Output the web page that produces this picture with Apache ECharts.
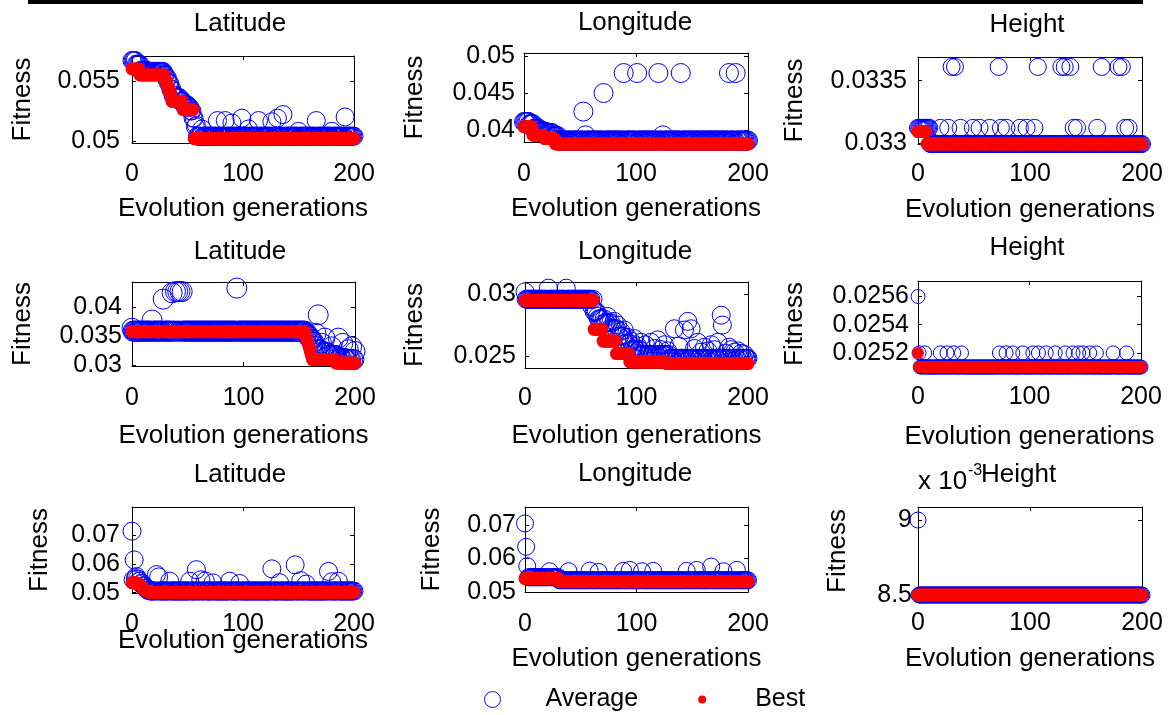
<!DOCTYPE html>
<html>
<head>
<meta charset="utf-8">
<script src="https://cdn.jsdelivr.net/npm/echarts@6/dist/echarts.min.js"></script>
<style>html,body{margin:0;padding:0;background:#fff}#c{width:1169px;height:715px}</style>
</head>
<body>
<div id="c"></div>
<script>
// ---------- texts & ticks ----------
const panelTitles = ['Latitude','Longitude','Height','Latitude','Longitude','Height','Latitude','Longitude','Height'];
const yLabel = 'Fitness';
const xLabel = 'Evolution generations';
const legendNames = ['Average', 'Best'];
const lastGen = 200;
const xTicks = [0, 100, 200];
const xTickLabels = ['0', '100', '200'];

const yRanges = [[0.04983,0.05708],[0.0384,0.0504],[0.03299,0.03369],[0.0299,0.04435],[0.02401,0.0310],[0.0251,0.02571],[0.0499,0.0798],[0.0500,0.0754],[0.0085,0.009087]];
const yTicks = [[0.05,0.055],[0.04,0.045,0.05],[0.033,0.0335],[0.03,0.035,0.04],[0.025,0.03],[0.0252,0.0254,0.0256],[0.05,0.06,0.07],[0.05,0.06,0.07],[0.0085,0.009]];
const yTickLabels = [['0.05','0.055'],['0.04','0.045','0.05'],['0.033','0.0335'],['0.03','0.035','0.04'],['0.025','0.03'],['0.0252','0.0254','0.0256'],['0.05','0.06','0.07'],['0.05','0.06','0.07'],['8.5','9']];

// ---------- data: runs are [first generation, value] held until the next run ----------
// Panel 1: Latitude (row 1)
const bestRuns1 = [[0,0.0560],[7,0.0555],[30,0.0550],[32,0.0545],[34,0.0540],[36,0.0533],[46,0.0526],[56,0.0502]];
const avgRuns1 = [[0,0.0567],[4,0.0564],[8,0.0559],[14,0.0558],[29,0.0555],[31,0.0552],[33,0.0548],[35,0.0543],[37,0.0538],[40,0.0536],[44,0.0533],[47,0.0530],[51,0.0528],[53,0.0525],[55,0.0519],[57,0.0512],[59,0.0504]];
const avgPoints1 = [[58,0.0513],[63,0.0510],[77,0.0517],[84,0.0517],[90,0.0515],[99,0.0519],[105,0.0510],[114,0.0517],[126,0.0516],[131,0.0519],[136,0.0522],[150,0.0508],[166,0.0517],[180,0.0508],[192,0.0520]];
// Panel 2: Longitude (row 1)
const bestRuns2 = [[0,0.04045],[8,0.03932],[18,0.03888],[28,0.03814]];
const avgRuns2 = [[0,0.0411],[5,0.0408],[9,0.0402],[14,0.0398],[20,0.0396],[26,0.0392],[31,0.0386]];
const avgPoints2 = [[53,0.0425],[55,0.0393],[71,0.0450],[89,0.0477],[101,0.0477],[120,0.0477],[124,0.0393],[140,0.0477],[183,0.0477],[189,0.0477]];
// Panel 3: Height (row 1)
const bestRuns3 = [[0,0.03309],[8,0.03299]];
const avgRuns3 = [[0,0.03312],[11,0.03299]];
const avgPoints3 = [[30,0.03361],[33,0.03361],[72,0.03361],[107,0.03361],[128,0.03361],[131,0.03361],[136,0.03361],[164,0.03361],[179,0.03361],[182,0.03361],
  [20,0.03312],[27,0.03312],[38,0.03312],[49,0.03312],[55,0.03312],[64,0.03312],[74,0.03312],[79,0.03312],[91,0.03312],[97,0.03312],[104,0.03312],[139,0.03312],[142,0.03312],[160,0.03312],[185,0.03312],[188,0.03312]];
// Panel 4: Latitude (row 2)
const bestRuns4 = [[0,0.0358],[156,0.0350],[157,0.0344],[158,0.0337],[159,0.0330],[160,0.0323],[161,0.0316],[162,0.0310],[183,0.0304]];
const avgRuns4 = [[0,0.0359],[156,0.0355],[158,0.0350],[160,0.0345],[162,0.0340],[164,0.0333],[166,0.0327],[170,0.0322],[176,0.0317],[184,0.0312],[192,0.0310]];
const avgPoints4 = [[0,0.0364],[18,0.0378],[28,0.0414],[36,0.0425],[39,0.0427],[41,0.0427],[43,0.0427],[45,0.0427],[94,0.0433],[165,0.0355],[167,0.0387],[170,0.0338],[173,0.0347],[179,0.0332],[185,0.0347],[189,0.0338],[194,0.0327],[197,0.0332],[200,0.0324]];
// Panel 5: Longitude (row 2)
const bestRuns5 = [[0,0.0295],[62,0.02715],[70,0.0262],[82,0.02518],[94,0.0245],[127,0.02437]];
const avgRuns5 = [[0,0.0296],[62,0.0286],[66,0.0280],[72,0.0277],[78,0.0272],[84,0.0266],[90,0.0260],[96,0.0255],[104,0.0251],[130,0.0248]];
const avgPoints5 = [[0,0.0302],[21,0.0305],[37,0.0305],[60,0.0290],[63,0.0286],[65,0.0282],[68,0.0280],[70,0.0276],[74,0.0282],[76,0.0272],[80,0.0278],[83,0.0275],[86,0.0270],[89,0.0271],[92,0.0265],[95,0.0262],[98,0.0264],[101,0.0258],[104,0.0261],[108,0.0259],[113,0.0261],[116,0.0256],[119,0.0263],[122,0.0255],[125,0.0259],[128,0.0254],[134,0.0272],[138,0.0258],[143,0.0271],[146,0.0278],[149,0.0272],[152,0.0256],[155,0.0261],[158,0.0253],[161,0.0257],[164,0.0254],[167,0.0259],[170,0.0255],[173,0.0261],[176,0.0283],[177,0.0275],[180,0.0252],[183,0.0257],[185,0.0255],[188,0.0253],[191,0.0254],[194,0.0252],[197,0.0251]];
// Panel 6: Height (row 2)
const bestRuns6 = [[0,0.02520],[1,0.02510]];
const avgRuns6 = [[0,0.02510]];
const avgPoints6 = [[0,0.0256],[1,0.0252],[6,0.0252],[20,0.0252],[26,0.0252],[32,0.0252],[39,0.0252],[73,0.0252],[79,0.0252],[85,0.0252],[94,0.0252],[103,0.0252],[108,0.0252],[115,0.0252],[123,0.0252],[132,0.0252],[139,0.0252],[144,0.0252],[148,0.0252],[154,0.0252],[160,0.0252],[175,0.0252],[187,0.0252]];
// Panel 7: Latitude (row 3)
const bestRuns7 = [[0,0.0535],[5,0.0531],[7,0.0525],[9,0.0517],[11,0.0510],[13,0.0505],[15,0.0502]];
const avgRuns7 = [[0,0.0545],[3,0.0548],[6,0.0540],[8,0.0532],[10,0.0524],[12,0.0516],[14,0.0509],[16,0.0506]];
const avgPoints7 = [[0,0.0714],[1,0.0545],[2,0.0614],[4,0.0556],[22,0.0563],[24,0.0555],[34,0.0540],[52,0.0540],[58,0.0580],[62,0.0545],[66,0.0541],[73,0.0534],[88,0.0540],[97,0.0532],[126,0.0583],[133,0.0535],[147,0.0597],[152,0.0542],[157,0.0530],[177,0.0574],[180,0.0538],[186,0.0540]];
// Panel 8: Longitude (row 3)
const bestRuns8 = [[0,0.0540],[31,0.0531]];
const avgRuns8 = [[0,0.0544],[31,0.0535]];
const avgPoints8 = [[0,0.0705],[1,0.0635],[2,0.0577],[22,0.0562],[39,0.0562],[58,0.0564],[66,0.0560],[88,0.0563],[94,0.0566],[105,0.0562],[115,0.0563],[145,0.0563],[154,0.0566],[167,0.0576],[178,0.0562],[190,0.0566]];
// Panel 9: Height (row 3)
const bestRuns9 = [[0,0.0085]];
const avgRuns9 = [[0,0.0085]];
const avgPoints9 = [[0,0.0090]];

const bestRuns = [bestRuns1,bestRuns2,bestRuns3,bestRuns4,bestRuns5,bestRuns6,bestRuns7,bestRuns8,bestRuns9];
const avgRuns = [avgRuns1,avgRuns2,avgRuns3,avgRuns4,avgRuns5,avgRuns6,avgRuns7,avgRuns8,avgRuns9];
const avgPoints = [avgPoints1,avgPoints2,avgPoints3,avgPoints4,avgPoints5,avgPoints6,avgPoints7,avgPoints8,avgPoints9];

// ---------- layout (positions / styles) ----------
const FONT = '"Liberation Sans", Arial, sans-serif';
const layout = [
  {g:[132,56,222,87],  t:[240,24],  xM:19, xGap:53, yGap:96,  yM:12, c:18, d:13},
  {g:[524,53,224,89],  t:[635,23],  xM:20, xGap:54, yGap:96,  yM:9,  c:19, d:13},
  {g:[918,57,224,87],  t:[1027,25], xM:18, xGap:53, yGap:110, yM:11, c:17, d:13},
  {g:[132,282,223,84], t:[240,252], xM:20, xGap:57, yGap:96,  yM:10, c:20, d:13},
  {g:[525,282,223,86], t:[635,252], xM:18, xGap:55, yGap:97,  yM:9,  c:18, d:13},
  {g:[918,281,223,86], t:[1027,248],xM:18, xGap:57, yGap:110, yM:9,  c:14, d:12},
  {g:[132,507,222,86], t:[240,475], xM:19, xGap:35, yGap:79,  yM:12, c:18, d:13},
  {g:[525,507,223,85], t:[635,474], xM:20, xGap:54, yGap:80,  yM:9,  c:17, d:13},
  {g:[918,507,224,88], t:null,      xM:16, xGap:51, yGap:67,  yM:6,  c:16, d:13}
];

function expand(runs, overrides) {
  const vals = [];
  for (let g = 0; g <= lastGen; g++) {
    let v = null;
    for (const r of runs) if (r[0] <= g) v = r[1];
    vals.push(v);
  }
  (overrides || []).forEach(p => { vals[p[0]] = p[1]; });
  return vals.map((v, g) => [g, v]);
}
function fmt(ticks, labels) {
  return v => { for (let k = 0; k < ticks.length; k++) if (Math.abs(v - ticks[k]) < 1e-9) return labels[k]; return ''; };
}

const grids = [], xAxes = [], yAxes = [], series = [], titles = [];
const lineBlack = {color:'#000', width:1};
layout.forEach((L, i) => {
  grids.push({left:L.g[0], top:L.g[1], width:L.g[2], height:L.g[3], containLabel:false, outerBoundsMode:'none'});
  const xBase = {gridIndex:i, type:'value', min:0, max:lastGen, splitLine:{show:false},
    axisLine:{show:true, onZero:false, lineStyle:lineBlack},
    axisTick:{show:true, inside:true, length:4, customValues:xTicks, lineStyle:lineBlack}};
  xAxes.push(Object.assign({}, xBase, {position:'bottom',
    axisLabel:{show:true, customValues:xTicks, formatter:fmt(xTicks, xTickLabels), fontSize:25, fontFamily:FONT, color:'#000', margin:L.xM},
    name:xLabel, nameLocation:'middle', nameGap:L.xGap, nameMoveOverlap:false,
    nameTextStyle:{fontSize:26, fontFamily:FONT, color:'#000'}}));
  xAxes.push(Object.assign({}, xBase, {position:'top', axisLabel:{show:false}}));
  const yBase = {gridIndex:i, type:'value', min:yRanges[i][0], max:yRanges[i][1], splitLine:{show:false},
    axisLine:{show:true, onZero:false, lineStyle:lineBlack},
    axisTick:{show:true, inside:true, length:4, customValues:yTicks[i], lineStyle:lineBlack}};
  yAxes.push(Object.assign({}, yBase, {position:'left',
    axisLabel:{show:true, customValues:yTicks[i], formatter:fmt(yTicks[i], yTickLabels[i]), fontSize:25, fontFamily:FONT, color:'#000', margin:L.yM},
    name:yLabel, nameLocation:'middle', nameGap:L.yGap, nameRotate:90, nameMoveOverlap:false,
    nameTextStyle:{fontSize:26, fontFamily:FONT, color:'#000'}}));
  yAxes.push(Object.assign({}, yBase, {position:'right', axisLabel:{show:false}}));
  series.push({type:'scatter', name:legendNames[0], xAxisIndex:2*i, yAxisIndex:2*i, symbol:'circle', symbolSize:L.c,
    itemStyle:{color:'rgba(0,0,0,0)', borderColor:'#0000ff', borderWidth:1, opacity:1},
    data:expand(avgRuns[i], avgPoints[i]), clip:false, silent:true, z:2, large:false});
  series.push({type:'scatter', name:legendNames[1], xAxisIndex:2*i, yAxisIndex:2*i, symbol:'circle', symbolSize:L.d,
    itemStyle:{color:'#ff0000', opacity:1},
    data:expand(bestRuns[i]), clip:false, silent:true, z:3, large:false});
  if (L.t) titles.push({text:panelTitles[i], left:L.t[0], top:L.t[1], textAlign:'center', textVerticalAlign:'middle', padding:0,
    textStyle:{fontSize:26, fontWeight:'normal', fontFamily:FONT, color:'#000'}});
});

const chart = echarts.init(document.getElementById('c'), null, {renderer:'canvas'});
chart.setOption({
  animation:false,
  backgroundColor:'#fff',
  title:titles,
  grid:grids, xAxis:xAxes, yAxis:yAxes, series:series,
  legend:{
    left:484, top:687, padding:0, itemWidth:16, itemHeight:16, itemGap:56, selectedMode:false,
    textStyle:{fontSize:25, fontFamily:FONT, color:'#000', padding:[0,0,0,40]},
    data:[
      {name:legendNames[0], icon:'circle', itemStyle:{color:'rgba(0,0,0,0)', borderColor:'#0000ff', borderWidth:1}},
      {name:legendNames[1], icon:'path://M0,0M16,16M8,4A4,4,0,1,1,8,12A4,4,0,1,1,8,4Z', itemStyle:{color:'#ff0000', borderWidth:0}}
    ]
  },
  graphic:[
    {type:'rect', shape:{x:28, y:0, width:1115, height:4}, style:{fill:'#000'}, silent:true},
    {type:'text', x:918, y:482, style:{text:'x 10', fontSize:26, fontFamily:FONT, fill:'#000', verticalAlign:'middle', align:'left'}},
    {type:'text', x:968, y:471, style:{text:'-3', fontSize:16, fontFamily:FONT, fill:'#000', verticalAlign:'middle', align:'left'}},
    {type:'text', x:981, y:475, style:{text:panelTitles[8], fontSize:26, fontFamily:FONT, fill:'#000', verticalAlign:'middle', align:'left'}}
  ]
});
</script>
</body>
</html>
